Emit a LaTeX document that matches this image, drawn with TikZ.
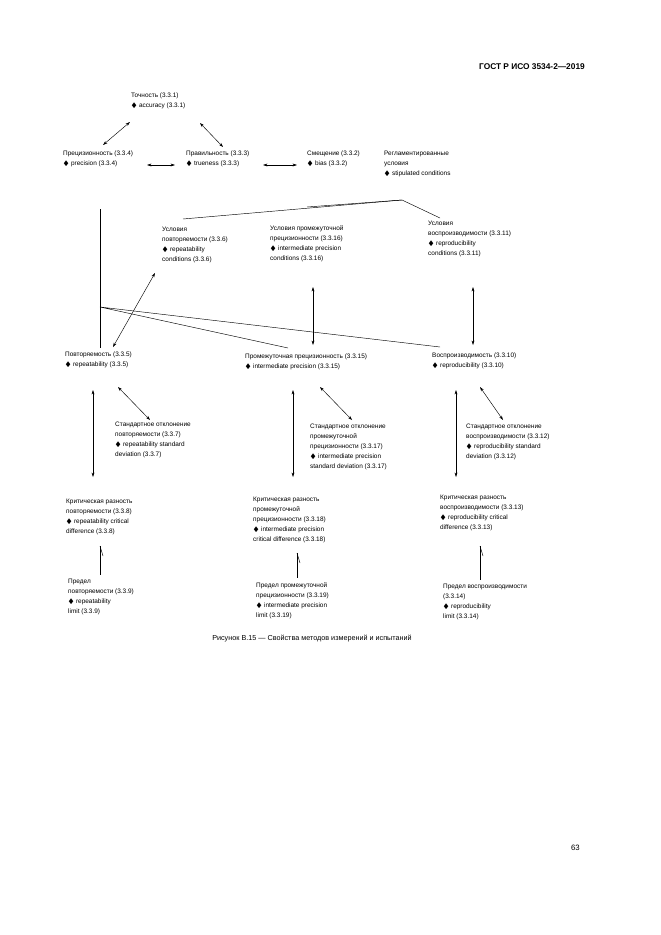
\documentclass[tikz,border=0pt]{standalone}
\usepackage{amssymb}
\usepackage{fontspec}
\setmainfont{Liberation Sans}
\usetikzlibrary{arrows.meta}

\begin{document}
\begin{tikzpicture}
[x=0.9pt,y=-0.9pt,
 term/.style={anchor=north west,align=left,inner sep=0pt,font=\fontsize{5.8}{9}\selectfont},
 link/.style={<->,>={Stealth[length=4pt,width=2.6pt]},line width=0.4pt},
 tie/.style={line width=0.4pt}]
\useasboundingbox (0,0) rectangle (661,935);

% header, caption, page
\node[anchor=north east,inner sep=0pt,font=\fontsize{7.5}{9}\selectfont\bfseries] (head) at (585,63) {ГОСТ Р ИСО 3534-2—2019};
\node[anchor=north,inner sep=0pt,font=\fontsize{6.5}{8}\selectfont] (cap) at (312,635) {Рисунок В.15 — Свойства методов измерений и испытаний};
\node[anchor=north east,inner sep=0pt,font=\fontsize{7}{8}\selectfont] (page) at (580,845) {63};

% top level
\node[term] (Accuracy) at (131,93) {Точность (3.3.1)\\$\blacklozenge$ accuracy (3.3.1)};
\node[term] (Precision) at (63,151) {Прецизионность (3.3.4)\\$\blacklozenge$ precision (3.3.4)};
\node[term] (Trueness) at (186,151) {Правильность (3.3.3)\\$\blacklozenge$ trueness (3.3.3)};
\node[term] (Bias) at (307,151) {Смещение (3.3.2)\\$\blacklozenge$ bias (3.3.2)};
\node[term] (Stipulated) at (384,151) {Регламентированные\\условия\\$\blacklozenge$ stipulated conditions};

% conditions
\node[term] (CondRep) at (162,227) {Условия\\повторяемости (3.3.6)\\$\blacklozenge$ repeatability\\conditions (3.3.6)};
\node[term] (CondIP) at (270,225) {Условия промежуточной\\прецизионности (3.3.16)\\$\blacklozenge$ intermediate precision\\conditions (3.3.16)};
\node[term] (CondRepro) at (428,221) {Условия\\воспроизводимости (3.3.11)\\$\blacklozenge$ reproducibility\\conditions (3.3.11)};

% properties
\node[term] (Rep) at (65,352) {Повторяемость (3.3.5)\\$\blacklozenge$ repeatability (3.3.5)};
\node[term] (IP) at (245,354) {Промежуточная прецизионность (3.3.15)\\$\blacklozenge$ intermediate precision (3.3.15)};
\node[term] (Repro) at (432,353) {Воспроизводимость (3.3.10)\\$\blacklozenge$ reproducibility (3.3.10)};

% standard deviations
\node[term] (SdRep) at (115,422) {Стандартное отклонение\\повторяемости (3.3.7)\\$\blacklozenge$ repeatability standard\\deviation (3.3.7)};
\node[term] (SdIP) at (310,424) {Стандартное отклонение\\промежуточной\\прецизионности (3.3.17)\\$\blacklozenge$ intermediate precision\\standard deviation (3.3.17)};
\node[term] (SdRepro) at (466,424) {Стандартное отклонение\\воспроизводимости (3.3.12)\\$\blacklozenge$ reproducibility standard\\deviation (3.3.12)};

% critical differences
\node[term] (CdRep) at (66,499) {Критическая разность\\повторяемости (3.3.8)\\$\blacklozenge$ repeatability critical\\difference (3.3.8)};
\node[term] (CdIP) at (253,497) {Критическая разность\\промежуточной\\прецизионности (3.3.18)\\$\blacklozenge$ intermediate precision\\critical difference (3.3.18)};
\node[term] (CdRepro) at (440,495) {Критическая разность\\воспроизводимости (3.3.13)\\$\blacklozenge$ reproducibility critical\\difference (3.3.13)};

% limits
\node[term] (LimRep) at (68,579) {Предел\\повторяемости (3.3.9)\\$\blacklozenge$ repeatability\\limit (3.3.9)};
\node[term] (LimIP) at (256,582) {Предел промежуточной\\прецизионности (3.3.19)\\$\blacklozenge$ intermediate precision\\limit (3.3.19)};
\node[term] (LimRepro) at (443,584) {Предел воспроизводимости\\(3.3.14)\\$\blacklozenge$ reproducibility\\limit (3.3.14)};

% free ends
\coordinate (accL) at (130,122); \coordinate (preT) at (103,145);
\coordinate (accR) at (200,123); \coordinate (truT) at (223,147);
\coordinate (preR) at (147,165); \coordinate (truL) at (175,165);
\coordinate (truR) at (263,165); \coordinate (biaL) at (297,165);
\coordinate (stiB) at (402,200);
\coordinate (fanA) at (183,219); \coordinate (fanB) at (307,207); \coordinate (fanC) at (440,218);
\coordinate (barT) at (100,209); \coordinate (barM) at (100,307); \coordinate (barB) at (100,348);
\coordinate (fanD) at (288,348); \coordinate (fanE) at (440,347);
\coordinate (cRepB) at (155,273); \coordinate (repT) at (113,347);
\coordinate (cIPB) at (313,287); \coordinate (ipT) at (313,345);
\coordinate (cReB) at (473,287); \coordinate (reT) at (473,345);

\draw[link] (accL) -- (preT);
\draw[link] (accR) -- (truT);
\draw[link] (preR) -- (truL);
\draw[link] (truR) -- (biaL);
\draw[tie] (fanA) -- (stiB) -- (fanC);
\draw[tie] (fanB) -- (stiB);
\draw[tie] (barT) -- (barB);
\draw[tie] (fanD) -- (barM) -- (fanE);
\draw[link] (cRepB) -- (repT);
\draw[link] (cIPB) -- (ipT);
\draw[link] (cReB) -- (reT);

% property -> deviation, critical difference
\foreach \x/\a/\b in {93/118/150, 293/320/352, 456/480/503}{
  \draw[link] (\a,387) -- (\b,420);
  \draw[link] (\x,390) -- (\x,477);
}

% limits with half heads
\foreach \x/\t/\b in {100/546/575, 297/553/578, 480/546/580}{
  \draw[tie] (\x,\t) -- (\x,\b);
  \draw[tie] (\x,\t) -- (\x+3,\t+10);
}
\end{tikzpicture}
\end{document}
